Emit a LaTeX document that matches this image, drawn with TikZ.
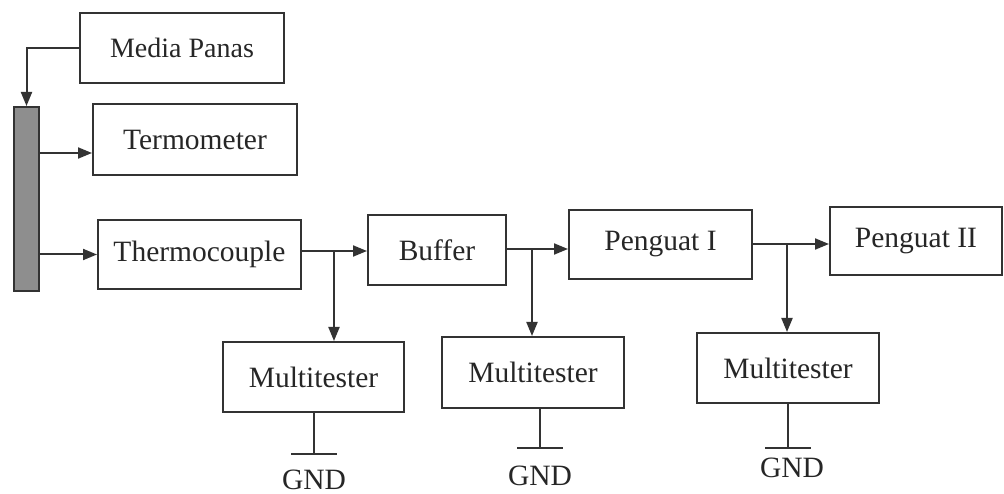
\documentclass[tikz,border=0pt]{standalone}
\usepackage{fontspec}
\setmainfont{Liberation Serif}
\usetikzlibrary{arrows.meta,calc}
\definecolor{linec}{HTML}{333333}
\definecolor{txtc}{HTML}{262626}
\definecolor{barc}{HTML}{8E8E8E}
\begin{document}
\begin{tikzpicture}[x=1pt,y=-1pt,
  box/.style={draw=linec, line width=2pt, inner sep=0pt, text=txtc,
    font=\fontsize{29.5}{32}\selectfont},
  lbl/.style={inner sep=0pt, text=txtc, font=\fontsize{29.5}{32}\selectfont},
  wire/.style={draw=linec, line width=2pt},
  arr/.style={wire, -{Triangle[length=14pt,width=11pt]}}]
\useasboundingbox (0,0) rectangle (1004,494);
% top-left
\node[box, minimum width=204pt, minimum height=70pt] (mp) at (182,48) {\fontsize{28}{30}\selectfont Media Panas};
\node[box, minimum width=204pt, minimum height=71pt] (tm) at (195,139.5) {Termometer};
\node[box, minimum width=203pt, minimum height=69pt] (tc) at (199.5,254.5) {Thermocouple};
\node[draw=linec, line width=2pt, fill=barc, inner sep=0pt, minimum width=25pt, minimum height=184pt] (bar) at (26.5,199) {};
% main chain
\node[box, minimum width=138pt, minimum height=70pt] (buf) at (437,250) {Buffer};
\node[box, minimum width=183pt, minimum height=69pt] (p1) at (660.5,244.5) {Penguat I};
\node[box, minimum width=172pt, minimum height=68pt] (p2) at (916,241) {Penguat II};
% multitesters
\node[box, minimum width=181pt, minimum height=70pt] (m1) at (313.5,377) {Multitester};
\node[box, minimum width=182pt, minimum height=71pt] (m2) at (533,372.5) {Multitester};
\node[box, minimum width=182pt, minimum height=70pt] (m3) at (788,368) {Multitester};
% left connectors
\draw[arr] (mp.west) -| (bar.north);
\draw[arr] (bar.east |- 0,153) -- (tm.west |- 0,153);
\draw[arr] (bar.east |- tc.west) -- (tc.west);
% junctions
\coordinate (j1) at (334,251);
\coordinate (j2) at (532,249);
\coordinate (j3) at (787,244);
\draw[wire] (tc.east |- j1) -- (j1);
\draw[arr] (j1) -- (buf.west |- j1);
\draw[arr] (j1) -- (j1 |- m1.north);
\draw[wire] (buf.east |- j2) -- (j2);
\draw[arr] (j2) -- (p1.west |- j2);
\draw[arr] (j2) -- (j2 |- m2.north);
\draw[wire] (p1.east |- j3) -- (j3);
\draw[arr] (j3) -- (p2.west |- j3);
\draw[arr] (j3) -- (j3 |- m3.north);
% grounds
\coordinate (g1) at (314,454);
\coordinate (g2) at (540,448);
\coordinate (g3) at (788,448);
\foreach \g/\m in {g1/m1,g2/m2,g3/m3}{
  \draw[wire] (\m.south -| \g) -- (\g);
  \draw[wire] ($(\g)+(-23,0)$) -- ($(\g)+(23,0)$);
}
\node[lbl] (t1) at (314,480) {GND};
\node[lbl] (t2) at (540,476) {GND};
\node[lbl] (t3) at (792,468) {GND};
\end{tikzpicture}
\end{document}
